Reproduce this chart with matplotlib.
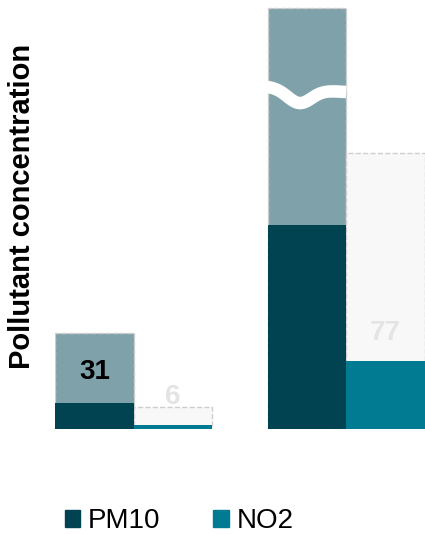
import numpy as np
import matplotlib.pyplot as plt
from matplotlib.patches import Patch

plt.rcParams['font.family'] = ['Liberation Sans', 'DejaVu Sans']

# data
groups = [0, 1]
pm10_actual = [8.4, 65.8]
pm10_limit = [31, 135.8]      # second bar is drawn broken
no2_actual = [1.3, 21.9]
no2_limit = [7.1, 89]
pm10_labels = ["31", ""]
no2_labels = ["6", "77"]

c_pm10 = "#024352"
c_pm10_light = "#7fa1a9"
c_no2 = "#017b91"
c_box = "#f8f8f8"
c_edge = "#d2cccc"

w = 0.37
fig = plt.figure(figsize=(4.25, 5.34), dpi=100)
ax = fig.add_axes([55 / 425, 1 - 429 / 534, 1 - 55 / 425, 424 / 534])

x_pm = np.array(groups) - w / 2
x_no = np.array(groups) + w / 2

# limit bars (background)
ax.bar(x_pm, pm10_limit, width=w, color=c_pm10_light, edgecolor=c_edge,
       linestyle="--", linewidth=1)
ax.bar(x_no, no2_limit, width=w, color=c_box, edgecolor=c_edge,
       linestyle="--", linewidth=1)
# actual bars
ax.bar(x_pm, pm10_actual, width=w, color=c_pm10, linewidth=0)
ax.bar(x_no, no2_actual, width=w, color=c_no2, linewidth=0)

# labels
for xi, a, l, t in zip(x_pm, pm10_actual, pm10_limit, pm10_labels):
    if t:
        ax.text(xi, (a + l) / 2 - 1.2, t, ha="center", va="center",
                fontsize=20, fontweight="bold", color="black")
for xi, a, t in zip(x_no, no2_actual, no2_labels):
    ax.annotate(t, (xi, a), xytext=(0, 20), textcoords="offset points",
                ha="center", va="center", fontsize=20, fontweight="bold",
                color="#e4e4e4")

# break mark on the tall bar
bx = np.linspace(x_pm[1] - w / 2 - 0.03, x_pm[1] + w / 2, 80)
t = (bx - bx[0]) / (bx[-1] - bx[0])
by = 110.6 - 1.9 * t - 4.6 * np.exp(-((t - 0.45) / 0.2) ** 2)
ax.plot(bx, by, color="white", linewidth=9, solid_capstyle="butt")

ax.set_xlim(-w - 0.001, 1 + w + 0.001)
ax.set_ylim(0, 424 / 3.1)
ax.axis("off")

fig.text(22 / 425, 1 - 206 / 534, "Pollutant concentration", rotation=90,
         ha="center", va="center", fontsize=21, fontweight="bold")

handles = [Patch(color=c_pm10, label="PM10"), Patch(color=c_no2, label="NO2")]
fig.legend(handles=handles, loc="center left", bbox_to_anchor=(0.152, 1 - 521 / 534),
           ncol=2, frameon=False, fontsize=20, handlelength=0.55,
           handleheight=0.55, handletextpad=0.3, columnspacing=1.9,
           borderpad=0, borderaxespad=0)

fig.savefig("out.png", dpi=100)
